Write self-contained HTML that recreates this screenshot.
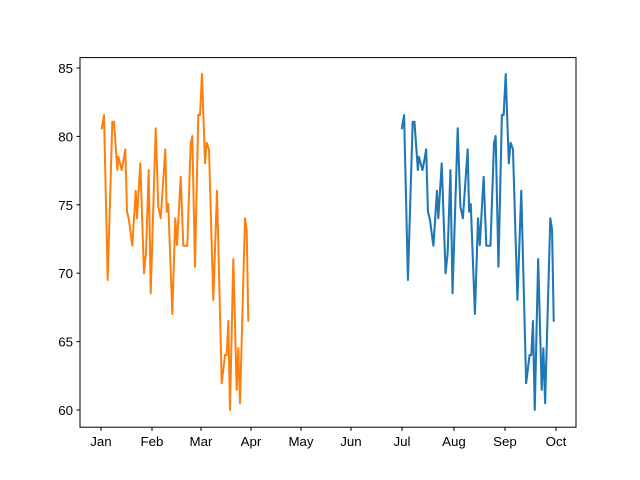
<!DOCTYPE html>
<html><head><meta charset="utf-8"><style>body{margin:0;background:#fff}svg{display:block}</style></head>
<body>
<svg width="640" height="480" xmlns="http://www.w3.org/2000/svg" font-family="Liberation Sans, DejaVu Sans, sans-serif" font-size="13.3">
<rect width="640" height="480" fill="#fff"/>
<g fill="none" stroke-width="2" stroke-linejoin="round">
<polyline stroke="#ff7f0e" points="101.7,129.3 104,115 107.7,280 112.3,121.7 114,121.7 117.3,170 118.3,156.7 121.7,170 123.3,161.7 125.3,149.3 127,211.7 129,220 131.7,241.7 132.3,245.7 135.7,190.7 137,218.3 140.3,163.3 144,273.3 146,253.3 148.7,170 150.7,293.3 155.7,128.3 158.3,206.7 160.7,218.3 165.3,149.3 166.7,211.7 168.3,204 172.3,314 175.3,218.3 177,245 180.7,176.7 183.3,245.7 187.3,245.7 190.7,143.3 192.3,136 195,266.7 198.3,115 200,115 202,74 205,163.3 206.7,142.7 209,149.3 213.3,300 217,190.7 221.7,383.3 225,355 226.7,355 228.3,321 230,410 233.3,259 236.7,390 238.3,348.3 240,403.3 245,218.3 246.7,230 248.3,321.7"/>
<polyline stroke="#1f77b4" transform="matrix(1.037 0 0 1 296.24 0)" points="101.7,129.3 104,115 107.7,280 112.3,121.7 114,121.7 117.3,170 118.3,156.7 121.7,170 123.3,161.7 125.3,149.3 127,211.7 129,220 131.7,241.7 132.3,245.7 135.7,190.7 137,218.3 140.3,163.3 144,273.3 146,253.3 148.7,170 150.7,293.3 155.7,128.3 158.3,206.7 160.7,218.3 165.3,149.3 166.7,211.7 168.3,204 172.3,314 175.3,218.3 177,245 180.7,176.7 183.3,245.7 187.3,245.7 190.7,143.3 192.3,136 195,266.7 198.3,115 200,115 202,74 205,163.3 206.7,142.7 209,149.3 213.3,300 217,190.7 221.7,383.3 225,355 226.7,355 228.3,321 230,410 233.3,259 236.7,390 238.3,348.3 240,403.3 245,218.3 246.7,230 248.3,321.7"/>
</g>
<rect x="80" y="57.6" width="496" height="369.6" fill="none" stroke="#000" stroke-width="1"/>
<g stroke="#000" stroke-width="1">
<line x1="76.5" x2="80" y1="410" y2="410"/><line x1="76.5" x2="80" y1="341.6" y2="341.6"/><line x1="76.5" x2="80" y1="273.2" y2="273.2"/><line x1="76.5" x2="80" y1="204.8" y2="204.8"/><line x1="76.5" x2="80" y1="136.4" y2="136.4"/><line x1="76.5" x2="80" y1="68" y2="68"/>
<line x1="101" x2="101" y1="427" y2="431"/><line x1="152" x2="152" y1="427" y2="431"/><line x1="201" x2="201" y1="427" y2="431"/><line x1="251" x2="251" y1="427" y2="431"/><line x1="301" x2="301" y1="427" y2="431"/><line x1="351" x2="351" y1="427" y2="431"/><line x1="402" x2="402" y1="427" y2="431"/><line x1="454" x2="454" y1="427" y2="431"/><line x1="505" x2="505" y1="427" y2="431"/><line x1="556" x2="556" y1="427" y2="431"/>
</g>
<g text-anchor="end">
<text x="73" y="415">60</text><text x="73" y="346.6">65</text><text x="73" y="278.2">70</text><text x="73" y="209.8">75</text><text x="73" y="141.4">80</text><text x="73" y="73">85</text>
</g>
<g text-anchor="middle">
<text x="101" y="446">Jan</text><text x="152" y="446">Feb</text><text x="201" y="446">Mar</text><text x="251" y="446">Apr</text><text x="301" y="446">May</text><text x="351" y="446">Jun</text><text x="402" y="446">Jul</text><text x="454" y="446">Aug</text><text x="505" y="446">Sep</text><text x="556" y="446">Oct</text>
</g>
</svg>
</body></html>
